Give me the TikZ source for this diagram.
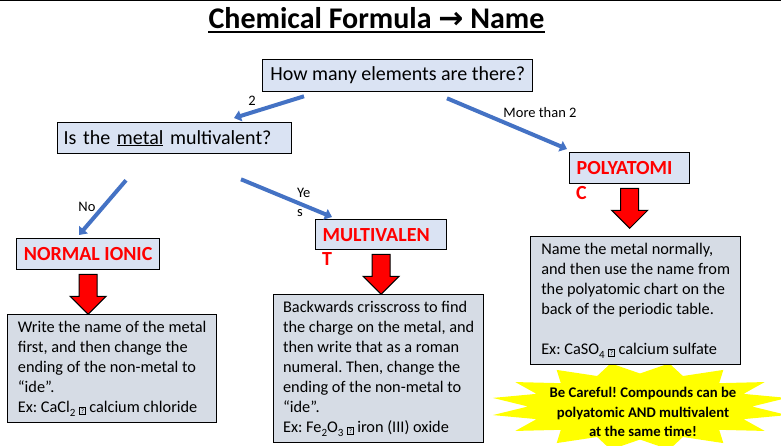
\documentclass[tikz,border=0pt]{standalone}
\usepackage{fontspec}
\setmainfont{Carlito}
\newfontfamily\arrowfont{DejaVu Sans}
\usetikzlibrary{arrows.meta}
\frenchspacing
\definecolor{qblue}{RGB}{218,227,243}
\definecolor{notegray}{RGB}{214,220,229}
\definecolor{flowblue}{RGB}{68,114,196}
\definecolor{hotred}{RGB}{255,0,0}
\definecolor{burst}{RGB}{255,255,0}
\newcommand{\tofu}{{\setlength{\fboxsep}{1.2pt}\setlength{\fboxrule}{0.4pt}\raisebox{-0.5pt}{\fbox{\fontsize{7}{7}\selectfont ?}}}}
\newcommand{\chemsub}[1]{\raisebox{-3.5pt}{\fontsize{11}{11}\selectfont #1}}
\tikzset{
  qbox/.style     = {draw=black,line width=1.3pt,fill=qblue,anchor=north west,inner sep=0pt,font=\fontsize{20}{22}\selectfont},
  typebox/.style  = {draw=black,line width=1.3pt,fill=qblue,anchor=north west,inner sep=0pt,text=hotred,font=\bfseries\fontsize{20}{22}\selectfont},
  typelbl/.style  = {anchor=north west,inner sep=0pt,text=hotred,font=\bfseries\fontsize{20}{22}\selectfont},
  notebox/.style  = {draw=black,line width=1.3pt,fill=notegray,anchor=north west,inner sep=0pt,align=left,font=\fontsize{16.3}{20}\selectfont},
  flowarr/.style  = {-{Triangle[length=7pt,width=11pt]},line width=4pt,flowblue},
  flowlbl/.style  = {inner sep=0pt,font=\fontsize{14.5}{19}\selectfont},
  bigarr/.style   = {fill=hotred,draw=black,line width=1pt},
  burstlbl/.style = {align=center,inner sep=0pt,font=\bfseries\fontsize{14.7}{19.5}\selectfont}
}
% red block arrow hanging below a box
\newcommand{\bigdown}[1]{%
  \filldraw[bigarr] ([xshift=-9pt,yshift=-4pt]#1.south) -- ++(18,0) -- ++(0,22) -- ++(9,0)
    -- ++(-18,18) -- ++(-18,-18) -- ++(9,0) -- cycle;
}
\begin{document}
\begin{tikzpicture}[x=1pt,y=-1pt]
  \useasboundingbox (0,0) rectangle (781,446);
  \clip (0,0) rectangle (781,446);
  \draw[line width=1.5pt] (0,0.75) -- (781,0.75);

  \node[anchor=base,inner sep=0pt,font=\bfseries\fontsize{30}{34}\selectfont] (title) at (376.5,29)
    {Chemical Formula {\arrowfont\bfseries →} Name};
  \draw[line width=2pt] ([yshift=-3pt]title.base west) -- ([yshift=-3pt]title.base east);

  % yellow warning star
  \fill[burst] plot[samples at={0,...,31},variable=\k]
    ({640+(mod(\k,2)==0?150:112)*cos(11.25*(\k+1))},{406.5-(mod(\k,2)==0?44:33)*sin(11.25*(\k+1))}) -- cycle;
  \node[burstlbl] (warn) at (643,412) {Be Careful! Compounds can be\\polyatomic AND multivalent\\at the same time!};

  \node[qbox,minimum width=270pt,minimum height=32pt] (q1) at (262,59) {How many elements are there?};
  \node[qbox,minimum width=234pt,minimum height=31pt,text width=222pt,align=left] (q2) at (57,122)
    {Is the \underline{metal} multivalent?};

  \node[typebox,minimum width=143pt,minimum height=31pt] (n1) at (16,238) {NORMAL IONIC};
  \node[typebox,minimum width=131pt,minimum height=30pt,text width=117pt,align=left] (m1) at (315,219) {MULTIVALEN};
  \node[typelbl] (m1t) at ([xshift=7pt,yshift=-2pt]m1.south west) {T};
  \node[typebox,minimum width=120pt,minimum height=31pt,text width=106pt,align=left] (p1) at (569,152) {POLYATOMI};
  \node[typelbl] (p1t) at ([xshift=7pt,yshift=-2pt]p1.south west) {C};

  \draw[flowarr] ([xshift=42pt,yshift=-4pt]q1.south west) -- ([xshift=177pt,yshift=4pt]q2.north west);
  \draw[flowarr] ([xshift=185pt,yshift=-6pt]q1.south west) -- ([xshift=-2pt,yshift=3pt]p1.north west);
  \draw[flowarr] ([xshift=69pt,yshift=-26pt]q2.south west) -- ([xshift=63pt,yshift=3pt]n1.north west);
  \draw[flowarr] ([xshift=184pt,yshift=-25pt]q2.south west) -- ([xshift=17pt,yshift=2pt]m1.north west);
  \node[flowlbl] (l2) at (252,101) {2};
  \node[flowlbl] (lmore) at (540,113) {More than 2};
  \node[flowlbl] (lno) at (87,207) {No};
  \node[flowlbl,align=left,anchor=north west] (lyes) at (297,188) {Ye\\s};

  \bigdown{n1}
  \bigdown{m1}
  \bigdown{p1}

  \node[notebox,minimum width=209pt,minimum height=108pt] (n2) at (7,314)
    {Write the name of the metal\\first, and then change the\\ending of the non-metal to\\“ide”.\\Ex: CaCl\chemsub{2} \tofu{} calcium chloride};
  \node[notebox,minimum width=210pt,minimum height=148pt] (m2) at (273,294)
    {Backwards crisscross to find\\the charge on the metal, and\\then write that as a roman\\numeral. Then, change the\\ending of the non-metal to\\“ide”.\\Ex: Fe\chemsub{2}O\chemsub{3} \tofu{} iron (III) oxide};
  \node[notebox,minimum width=210pt,minimum height=128pt] (p2) at (530,236)
    {Name the metal normally,\\and then use the name from\\the polyatomic chart on the\\back of the periodic table.\\[20pt]Ex: CaSO\chemsub{4} \tofu{} calcium sulfate};
\end{tikzpicture}
\end{document}
